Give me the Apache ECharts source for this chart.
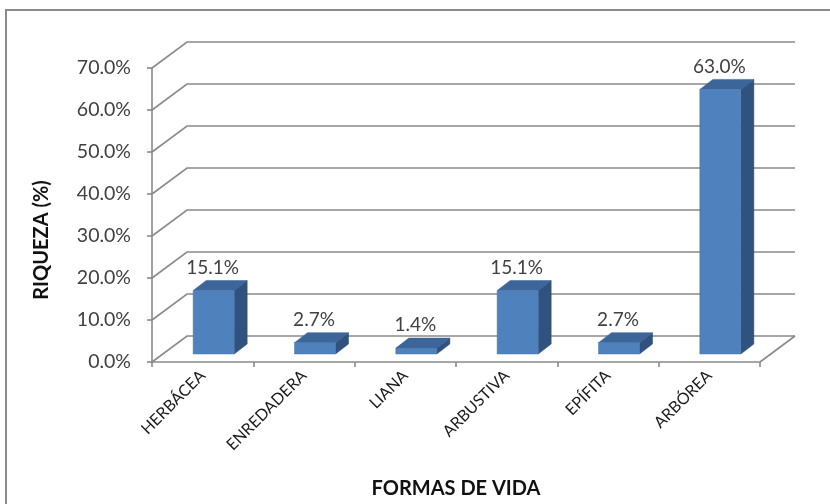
<!DOCTYPE html>
<html>
<head>
<meta charset="utf-8">
<script src="https://cdn.jsdelivr.net/npm/echarts@6/dist/echarts.min.js"></script>
<style>
  html, body { margin: 0; padding: 0; background: #fff; }
  #chart { width: 830px; height: 504px; }
</style>
</head>
<body>
<div id="chart"></div>
<script>
// Life forms and their share of species richness (%)
const categories = ['HERBÁCEA', 'ENREDADERA', 'LIANA', 'ARBUSTIVA', 'EPÍFITA', 'ARBÓREA'];
const richness = [15.1, 2.7, 1.4, 15.1, 2.7, 63.0];
const yTicks = [0, 10, 20, 30, 40, 50, 60, 70];

const FONT = 'Lato, "Liberation Sans", sans-serif';
const GRID_COLOR = '#8a8a8a';

// perspective offsets for the wall/floor and for each bar
const WALL_DX = 35, WALL_DY = -26;
const BAR_DX = 13, BAR_DY = -10;
const BAR_FRONT_RATIO = 0.405;

const chart = echarts.init(document.getElementById('chart'));

// Back wall gridlines, left wall diagonals and the floor outline
function renderWalls(params, api) {
  const cs = params.coordSys;
  const v = api.value(0);
  const y = api.coord([0, v])[1];
  const x0 = cs.x, x1 = cs.x + cs.width;
  const style = { stroke: GRID_COLOR, lineWidth: 1.6, fill: null };
  const children = [{
    type: 'polyline',
    shape: { points: [[x0, y], [x0 + WALL_DX, y + WALL_DY], [x1 + WALL_DX, y + WALL_DY]] },
    style: style
  }];
  if (v === 0) {
    children.push({
      type: 'polyline',
      shape: { points: [[x1, y], [x1 + WALL_DX, y + WALL_DY]] },
      style: style
    });
  }
  return { type: 'group', children: children };
}

// Box-shaped bars: front face, top face, right side face and value label
function renderBars(params, api) {
  const i = api.value(0);
  const v = api.value(1);
  const band = api.size([1, 0])[0];
  const w = band * BAR_FRONT_RATIO;
  const base = api.coord([i, 0]);
  const top = api.coord([i, v]);
  const ox = (WALL_DX - BAR_DX) / 2, oy = (WALL_DY - BAR_DY) / 2;
  const xl = base[0] + ox - w / 2, xr = xl + w;
  const yb = base[1] + oy, yt = top[1] + oy;
  return {
    type: 'group',
    children: [
      {
        type: 'polygon',
        shape: { points: [[xr, yb], [xr + BAR_DX, yb + BAR_DY], [xr + BAR_DX, yt + BAR_DY], [xr, yt]] },
        style: { fill: '#30527e', stroke: '#2c4c75', lineWidth: 0.5 }
      },
      {
        type: 'polygon',
        shape: { points: [[xl, yt], [xr, yt], [xr + BAR_DX, yt + BAR_DY], [xl + BAR_DX, yt + BAR_DY]] },
        style: { fill: '#3c6699', stroke: '#385f8f', lineWidth: 0.5 }
      },
      {
        type: 'rect',
        shape: { x: xl, y: yt, width: w, height: yb - yt },
        style: { fill: '#4f81bd', stroke: '#4776ad', lineWidth: 0.5 }
      },
      {
        type: 'text',
        style: {
          x: xl + w / 2 - 1, y: yt - 23,
          text: v.toFixed(1) + '%',
          align: 'center', verticalAlign: 'middle',
          font: '19px ' + FONT, fill: '#404040'
        }
      }
    ]
  };
}

chart.setOption({
  animation: false,
  backgroundColor: '#ffffff',
  grid: { left: 152, right: 70, top: 68, bottom: 142, outerBoundsMode: 'none', containLabel: false },
  xAxis: {
    type: 'category',
    data: categories,
    boundaryGap: true,
    name: 'FORMAS DE VIDA',
    nameLocation: 'middle',
    nameGap: 117,
    nameTextStyle: { fontFamily: FONT, fontWeight: 'bold', fontSize: 20, color: '#111' },
    axisLine: { show: true, lineStyle: { color: GRID_COLOR, width: 1.6 } },
    axisTick: { show: true, length: 5, alignWithLabel: false, lineStyle: { color: GRID_COLOR, width: 1.6 } },
    axisLabel: { rotate: 45, margin: 11, fontFamily: FONT, fontSize: 16, color: '#1a1a1a', interval: 0 },
    splitLine: { show: false }
  },
  yAxis: {
    type: 'value',
    min: 0, max: 70, interval: 10,
    axisLine: { show: true, lineStyle: { color: GRID_COLOR, width: 1.6 } },
    axisTick: { show: true, length: 5, lineStyle: { color: GRID_COLOR, width: 1.6 } },
    axisLabel: {
      margin: 21, fontFamily: FONT, fontSize: 19.5, color: '#404040',
      formatter: function (v) { return v.toFixed(1) + '%'; }
    },
    splitLine: { show: false }
  },
  graphic: [
    {
      type: 'polyline',
      shape: { points: [[6, 504], [6, 10], [830, 10]] },
      style: { stroke: '#8c8c8c', lineWidth: 2, fill: null },
      silent: true
    },
    {
      type: 'text',
      x: 42, y: 240,
      rotation: Math.PI / 2,
      style: {
        text: 'RIQUEZA (%)',
        align: 'center', verticalAlign: 'middle',
        font: 'bold 20px ' + FONT, fill: '#111'
      },
      silent: true
    }
  ],
  series: [
    {
      type: 'custom',
      name: 'walls',
      renderItem: renderWalls,
      data: yTicks.map(function (t) { return [t]; }),
      encode: { y: 0 },
      z: 1,
      silent: true
    },
    {
      type: 'custom',
      name: 'Riqueza',
      renderItem: renderBars,
      data: richness.map(function (v, i) { return [i, v]; }),
      encode: { x: 0, y: 1 },
      z: 2,
      silent: true
    }
  ]
});
</script>
</body>
</html>
